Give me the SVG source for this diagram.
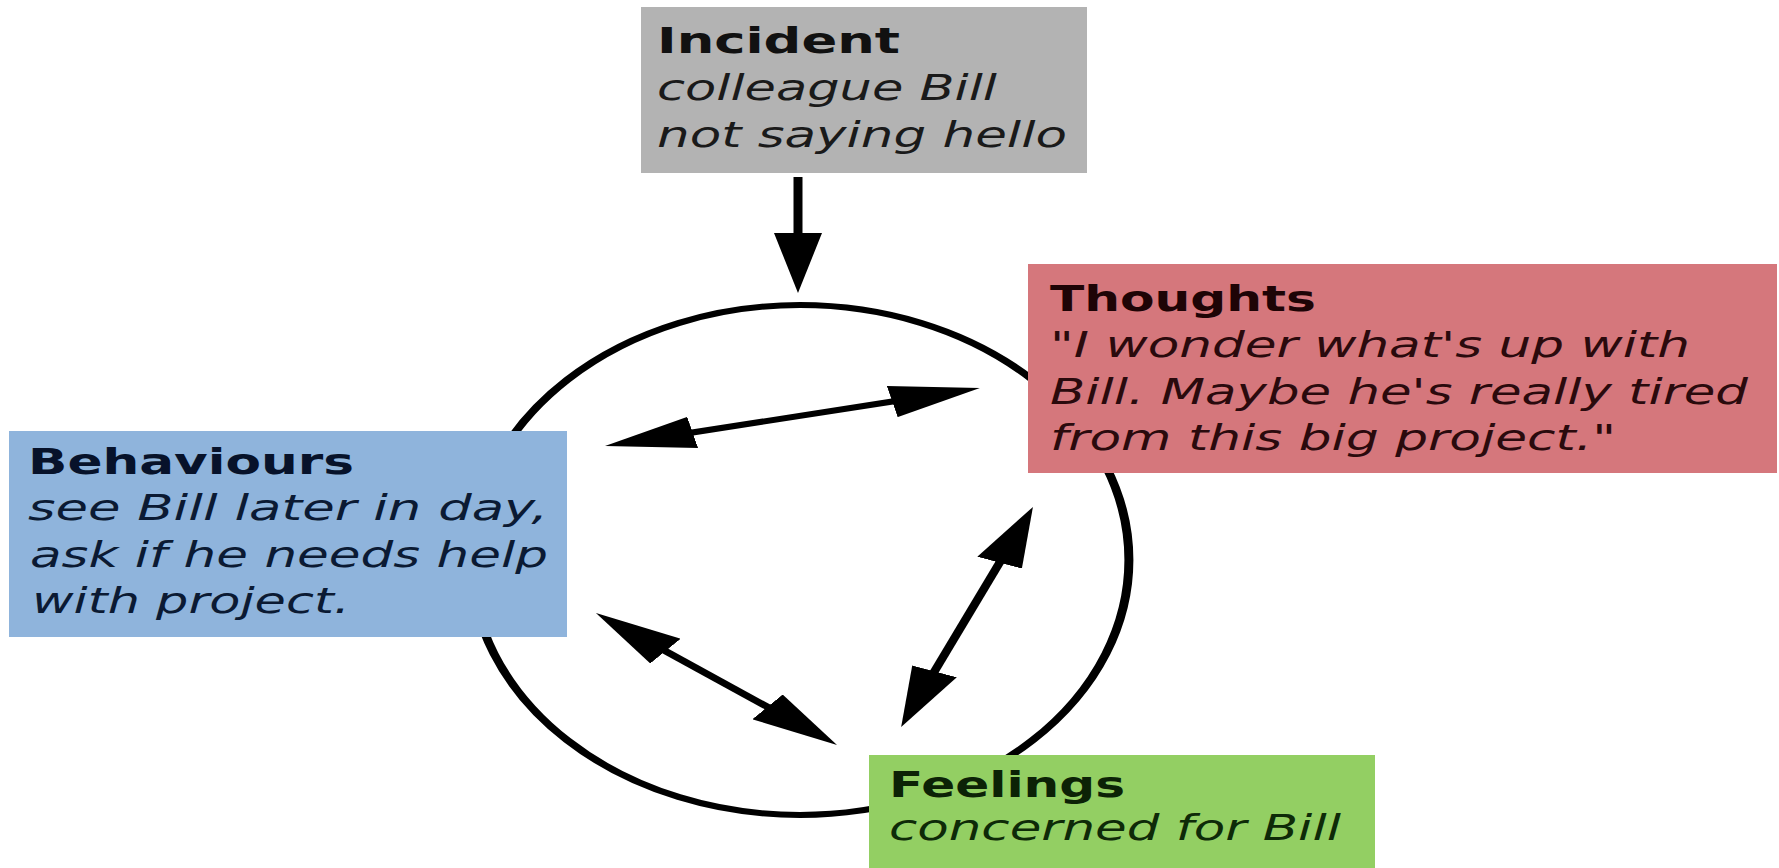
<svg xmlns="http://www.w3.org/2000/svg" width="1779" height="868" viewBox="0 0 1779 868">
  <style>
    .title { font-family: "DejaVu Sans", Verdana, sans-serif; font-size: 35px; font-weight: bold; }
    .body { font-family: "DejaVu Sans", Verdana, sans-serif; font-size: 35px; font-style: italic; }
    .conn { fill: none; stroke: #000; stroke-width: 6; }
    .ring { fill: none; stroke: #000; stroke-width: 6; }
  </style>
  <defs>
    <marker id="ah" viewBox="0 0 60 32" markerWidth="60" markerHeight="32" refX="20" refY="16" orient="auto-start-reverse" markerUnits="userSpaceOnUse">
      <path d="M0,0 L60,16 L0,32 z" fill="#000"/>
    </marker>
  </defs>
  <rect width="1779" height="868" fill="#ffffff"/>

  <g id="cycle" transform="scale(1.5 1)">
    <ellipse class="ring" cx="533.3" cy="560" rx="219.3" ry="255"/>
  </g>

  <g id="incident">
    <rect x="641" y="7" width="446" height="166" fill="#b3b3b3"/>
    <text class="title" x="657" y="53" fill="#111" textLength="243" lengthAdjust="spacingAndGlyphs">Incident</text>
    <text class="body" x="657" y="100" fill="#1a1a1a" textLength="340" lengthAdjust="spacingAndGlyphs">colleague Bill</text>
    <text class="body" x="657" y="147" fill="#1a1a1a" textLength="410" lengthAdjust="spacingAndGlyphs">not saying hello</text>
  </g>

  <g id="thoughts">
    <rect x="1028" y="264" width="749" height="209" fill="#d5777c"/>
    <text class="title" x="1050" y="311" fill="#1e0406" textLength="266" lengthAdjust="spacingAndGlyphs">Thoughts</text>
    <text class="body" x="1050" y="357" fill="#2a0a0d" textLength="640" lengthAdjust="spacingAndGlyphs">"I wonder what's up with</text>
    <text class="body" x="1050" y="404" fill="#2a0a0d" textLength="698" lengthAdjust="spacingAndGlyphs">Bill. Maybe he's really tired</text>
    <text class="body" x="1050" y="450" fill="#2a0a0d" textLength="566" lengthAdjust="spacingAndGlyphs">from this big project."</text>
  </g>

  <g id="behaviours">
    <rect x="9" y="431" width="558" height="206" fill="#8fb4dc"/>
    <text class="title" x="28" y="474" fill="#07122a" textLength="326" lengthAdjust="spacingAndGlyphs">Behaviours</text>
    <text class="body" x="28" y="520" fill="#0b1a33" textLength="520" lengthAdjust="spacingAndGlyphs">see Bill later in day,</text>
    <text class="body" x="30" y="567" fill="#0b1a33" textLength="518" lengthAdjust="spacingAndGlyphs">ask if he needs help</text>
    <text class="body" x="32" y="613" fill="#0b1a33" textLength="318" lengthAdjust="spacingAndGlyphs">with project.</text>
  </g>

  <g id="feelings">
    <rect x="869" y="755" width="506" height="113" fill="#93cf63"/>
    <text class="title" x="889" y="797" fill="#0c2206" textLength="236" lengthAdjust="spacingAndGlyphs">Feelings</text>
    <text class="body" x="889" y="840" fill="#0e2a08" textLength="452" lengthAdjust="spacingAndGlyphs">concerned for Bill</text>
  </g>

  <g id="connectors" transform="scale(1.5 1)">
    <line class="conn" x1="532" y1="177" x2="532" y2="253" marker-end="url(#ah)"/>
    <line class="conn" x1="442.3" y1="437" x2="614.3" y2="397" marker-start="url(#ah)" marker-end="url(#ah)"/>
    <line class="conn" x1="673.8" y1="544.1" x2="615.6" y2="689.9" marker-start="url(#ah)" marker-end="url(#ah)"/>
    <line class="conn" x1="428.2" y1="638.4" x2="527.1" y2="719.6" marker-start="url(#ah)" marker-end="url(#ah)"/>
  </g>
</svg>
